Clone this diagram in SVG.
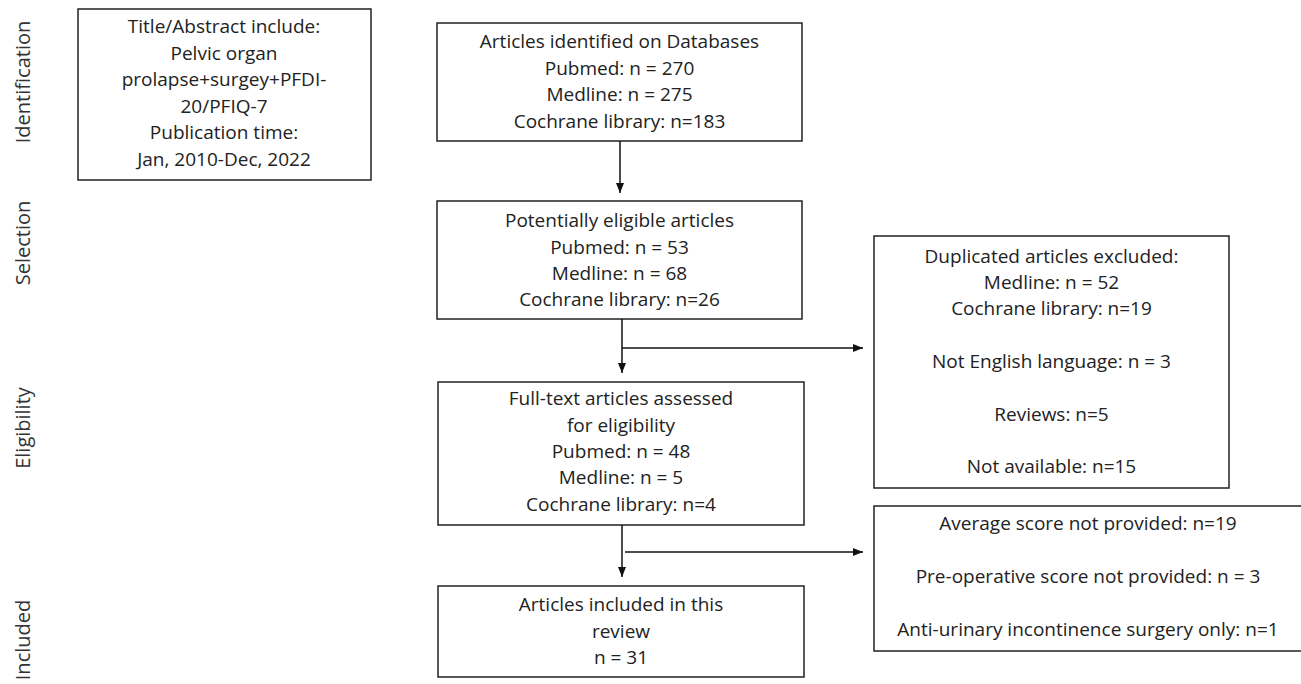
<svg xmlns="http://www.w3.org/2000/svg" width="1301" height="684" viewBox="0 0 1301 684">
  <style>
    .box { fill: #fff; stroke: #222; stroke-width: 1.5; }
    .t { font-family: "Open Sans", "Liberation Sans", sans-serif; font-size: 19px; fill: #222; text-anchor: middle; }
    .lab { font-family: "Open Sans", "Liberation Sans", sans-serif; font-size: 20px; fill: #333; text-anchor: middle; }
    .conn { fill: none; stroke: #111; stroke-width: 1.5; }
  </style>
  <defs>
    <marker id="arr" markerUnits="userSpaceOnUse" markerWidth="10" markerHeight="10" viewBox="0 0 10 10" refX="10" refY="5" orient="auto">
      <path d="M0,1 L10,5 L0,9 Z" fill="#111"/>
    </marker>
  </defs>
  <rect width="1301" height="684" fill="#fff"/>

  <g id="phase-labels">
    <text class="lab" transform="translate(30,82) rotate(-90)">Identification</text>
    <text class="lab" transform="translate(30,243) rotate(-90)">Selection</text>
    <text class="lab" transform="translate(30,428) rotate(-90)">Eligibility</text>
    <text class="lab" transform="translate(30,640) rotate(-90)">Included</text>
  </g>

  <g id="search-criteria">
    <rect class="box" x="78" y="9" width="293" height="171"/>
    <text class="t" x="224" y="33">Title/Abstract include:</text>
    <text class="t" x="224" y="59.5">Pelvic organ</text>
    <text class="t" x="224" y="86">prolapse+surgey+PFDI-</text>
    <text class="t" x="224" y="112.5">20/PFIQ-7</text>
    <text class="t" x="224" y="139">Publication time:</text>
    <text class="t" x="224" y="165.5">Jan, 2010-Dec, 2022</text>
  </g>

  <g id="identified">
    <rect class="box" x="437" y="23" width="365" height="118"/>
    <text class="t" x="619.5" y="48">Articles identified on Databases</text>
    <text class="t" x="619.5" y="74.5">Pubmed: n = 270</text>
    <text class="t" x="619.5" y="101">Medline: n = 275</text>
    <text class="t" x="619.5" y="127.5">Cochrane library: n=183</text>
  </g>

  <g id="potentially-eligible">
    <rect class="box" x="437" y="201" width="365" height="118"/>
    <text class="t" x="619.5" y="227">Potentially eligible articles</text>
    <text class="t" x="619.5" y="253.5">Pubmed: n = 53</text>
    <text class="t" x="619.5" y="280">Medline: n = 68</text>
    <text class="t" x="619.5" y="306">Cochrane library: n=26</text>
  </g>

  <g id="excluded-1">
    <rect class="box" x="874" y="236" width="355" height="252"/>
    <text class="t" x="1051.5" y="263">Duplicated articles excluded:</text>
    <text class="t" x="1051.5" y="289">Medline: n = 52</text>
    <text class="t" x="1051.5" y="315">Cochrane library: n=19</text>
    <text class="t" x="1051.5" y="368">Not English language: n = 3</text>
    <text class="t" x="1051.5" y="421">Reviews: n=5</text>
    <text class="t" x="1051.5" y="473">Not available: n=15</text>
  </g>

  <g id="full-text">
    <rect class="box" x="438" y="382" width="366" height="143"/>
    <text class="t" x="621" y="405">Full-text articles assessed</text>
    <text class="t" x="621" y="432">for eligibility</text>
    <text class="t" x="621" y="458">Pubmed: n = 48</text>
    <text class="t" x="621" y="484">Medline: n = 5</text>
    <text class="t" x="621" y="511">Cochrane library: n=4</text>
  </g>

  <g id="included">
    <rect class="box" x="438" y="586" width="366" height="91"/>
    <text class="t" x="621" y="611">Articles included in this</text>
    <text class="t" x="621" y="638">review</text>
    <text class="t" x="621" y="664">n = 31</text>
  </g>

  <g id="excluded-2">
    <rect class="box" x="874" y="506" width="440" height="145"/>
    <text class="t" x="1088" y="530">Average score not provided: n=19</text>
    <text class="t" x="1088" y="583">Pre-operative score not provided: n = 3</text>
    <text class="t" x="1088" y="636">Anti-urinary incontinence surgery only: n=1</text>
  </g>

  <g id="connectors">
    <line class="conn" x1="620" y1="141" x2="620" y2="193" marker-end="url(#arr)"/>
    <line class="conn" x1="622" y1="319" x2="622" y2="373" marker-end="url(#arr)"/>
    <line class="conn" x1="622" y1="348" x2="863" y2="348" marker-end="url(#arr)"/>
    <line class="conn" x1="622" y1="525" x2="622" y2="577" marker-end="url(#arr)"/>
    <line class="conn" x1="625" y1="552" x2="863" y2="552" marker-end="url(#arr)"/>
  </g>
</svg>
